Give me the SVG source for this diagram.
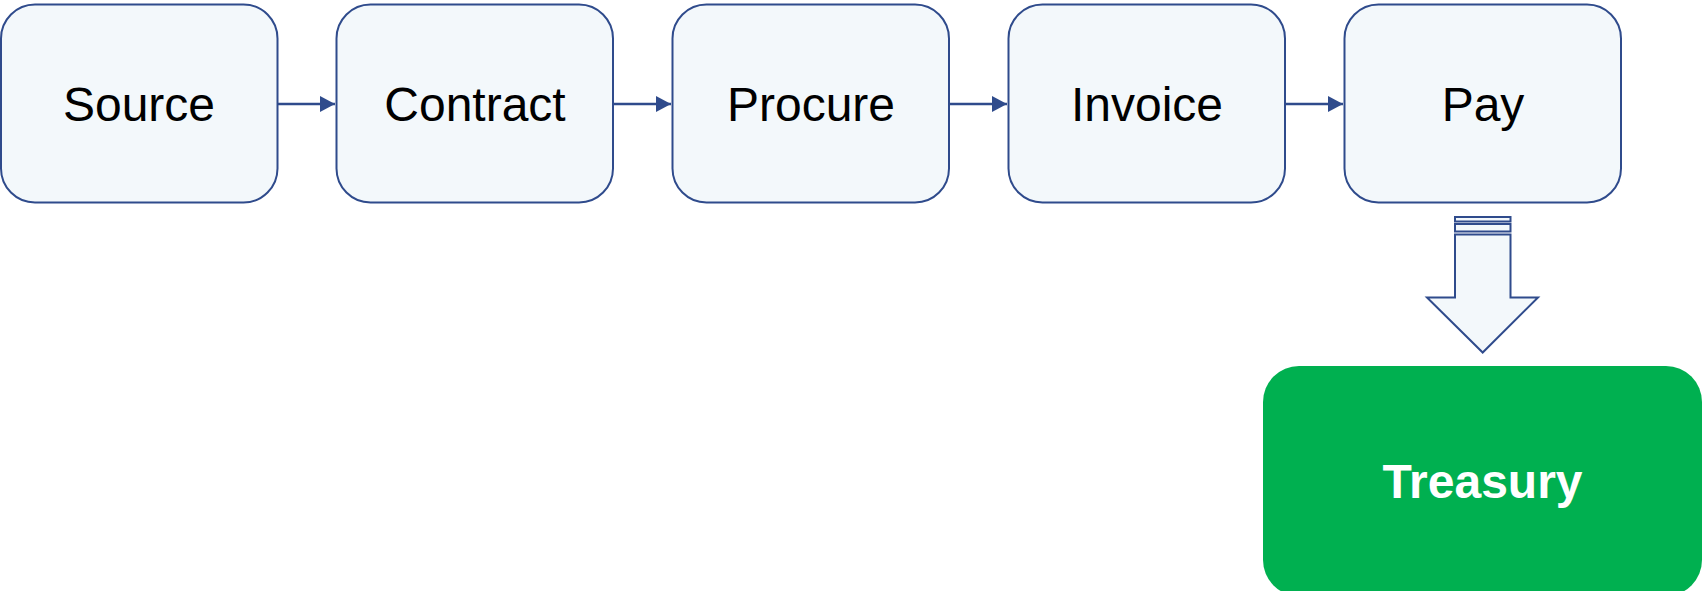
<svg xmlns="http://www.w3.org/2000/svg" width="1704" height="591" viewBox="0 0 1704 591">
<style>
.box{fill:#F3F8FB;stroke:#2F4B8C;stroke-width:2}
.lbl{font-family:"Liberation Sans",Arial,sans-serif;font-size:48px;fill:#000;text-anchor:middle}
.tre{font-family:"Liberation Sans",Arial,sans-serif;font-size:48px;font-weight:bold;fill:#FFFFFF;text-anchor:middle}
.conn{stroke:#2F4B8C;stroke-width:2.5;fill:none}
.blk{fill:#F3F8FB;stroke:#2F4B8C;stroke-width:2}
</style>
<defs>
<marker id="ah" viewBox="0 0 15 16" refX="15" refY="8" markerWidth="15" markerHeight="16" markerUnits="userSpaceOnUse" orient="auto">
<path d="M0,0 L15,8 L0,16 Z" fill="#2F4B8C"/>
</marker>
</defs>
<rect width="1704" height="591" fill="#FFFFFF"/>
<g id="connectors">
<line class="conn" x1="278" y1="104" x2="335" y2="104" marker-end="url(#ah)"/>
<line class="conn" x1="614" y1="104" x2="671" y2="104" marker-end="url(#ah)"/>
<line class="conn" x1="950" y1="104" x2="1007" y2="104" marker-end="url(#ah)"/>
<line class="conn" x1="1286" y1="104" x2="1343" y2="104" marker-end="url(#ah)"/>
<g id="block-arrow">
<rect class="blk" x="1455" y="217" width="55.5" height="4.5"/>
<rect class="blk" x="1455" y="224" width="55.5" height="7.5"/>
<path class="blk" d="M1455,234.5 L1510.5,234.5 L1510.5,297.5 L1538,297.5 L1482.7,352.5 L1427,297.5 L1455,297.5 Z"/>
</g>
</g>
<g id="source">
<rect class="box" x="1" y="4.5" width="276.5" height="198" rx="34" ry="34"/>
<text class="lbl" x="139" y="121">Source</text>
</g>
<g id="contract">
<rect class="box" x="336.5" y="4.5" width="276.5" height="198" rx="34" ry="34"/>
<text class="lbl" x="475" y="121">Contract</text>
</g>
<g id="procure">
<rect class="box" x="672.5" y="4.5" width="276.5" height="198" rx="34" ry="34"/>
<text class="lbl" x="811" y="121">Procure</text>
</g>
<g id="invoice">
<rect class="box" x="1008.5" y="4.5" width="276.5" height="198" rx="34" ry="34"/>
<text class="lbl" x="1147" y="121">Invoice</text>
</g>
<g id="pay">
<rect class="box" x="1344.5" y="4.5" width="276.5" height="198" rx="34" ry="34"/>
<text class="lbl" x="1483" y="121">Pay</text>
</g>
<g id="treasury">
<rect x="1263" y="366" width="439" height="230" rx="36" ry="36" fill="#00B050"/>
<text class="tre" x="1482.5" y="498">Treasury</text>
</g>
</svg>
